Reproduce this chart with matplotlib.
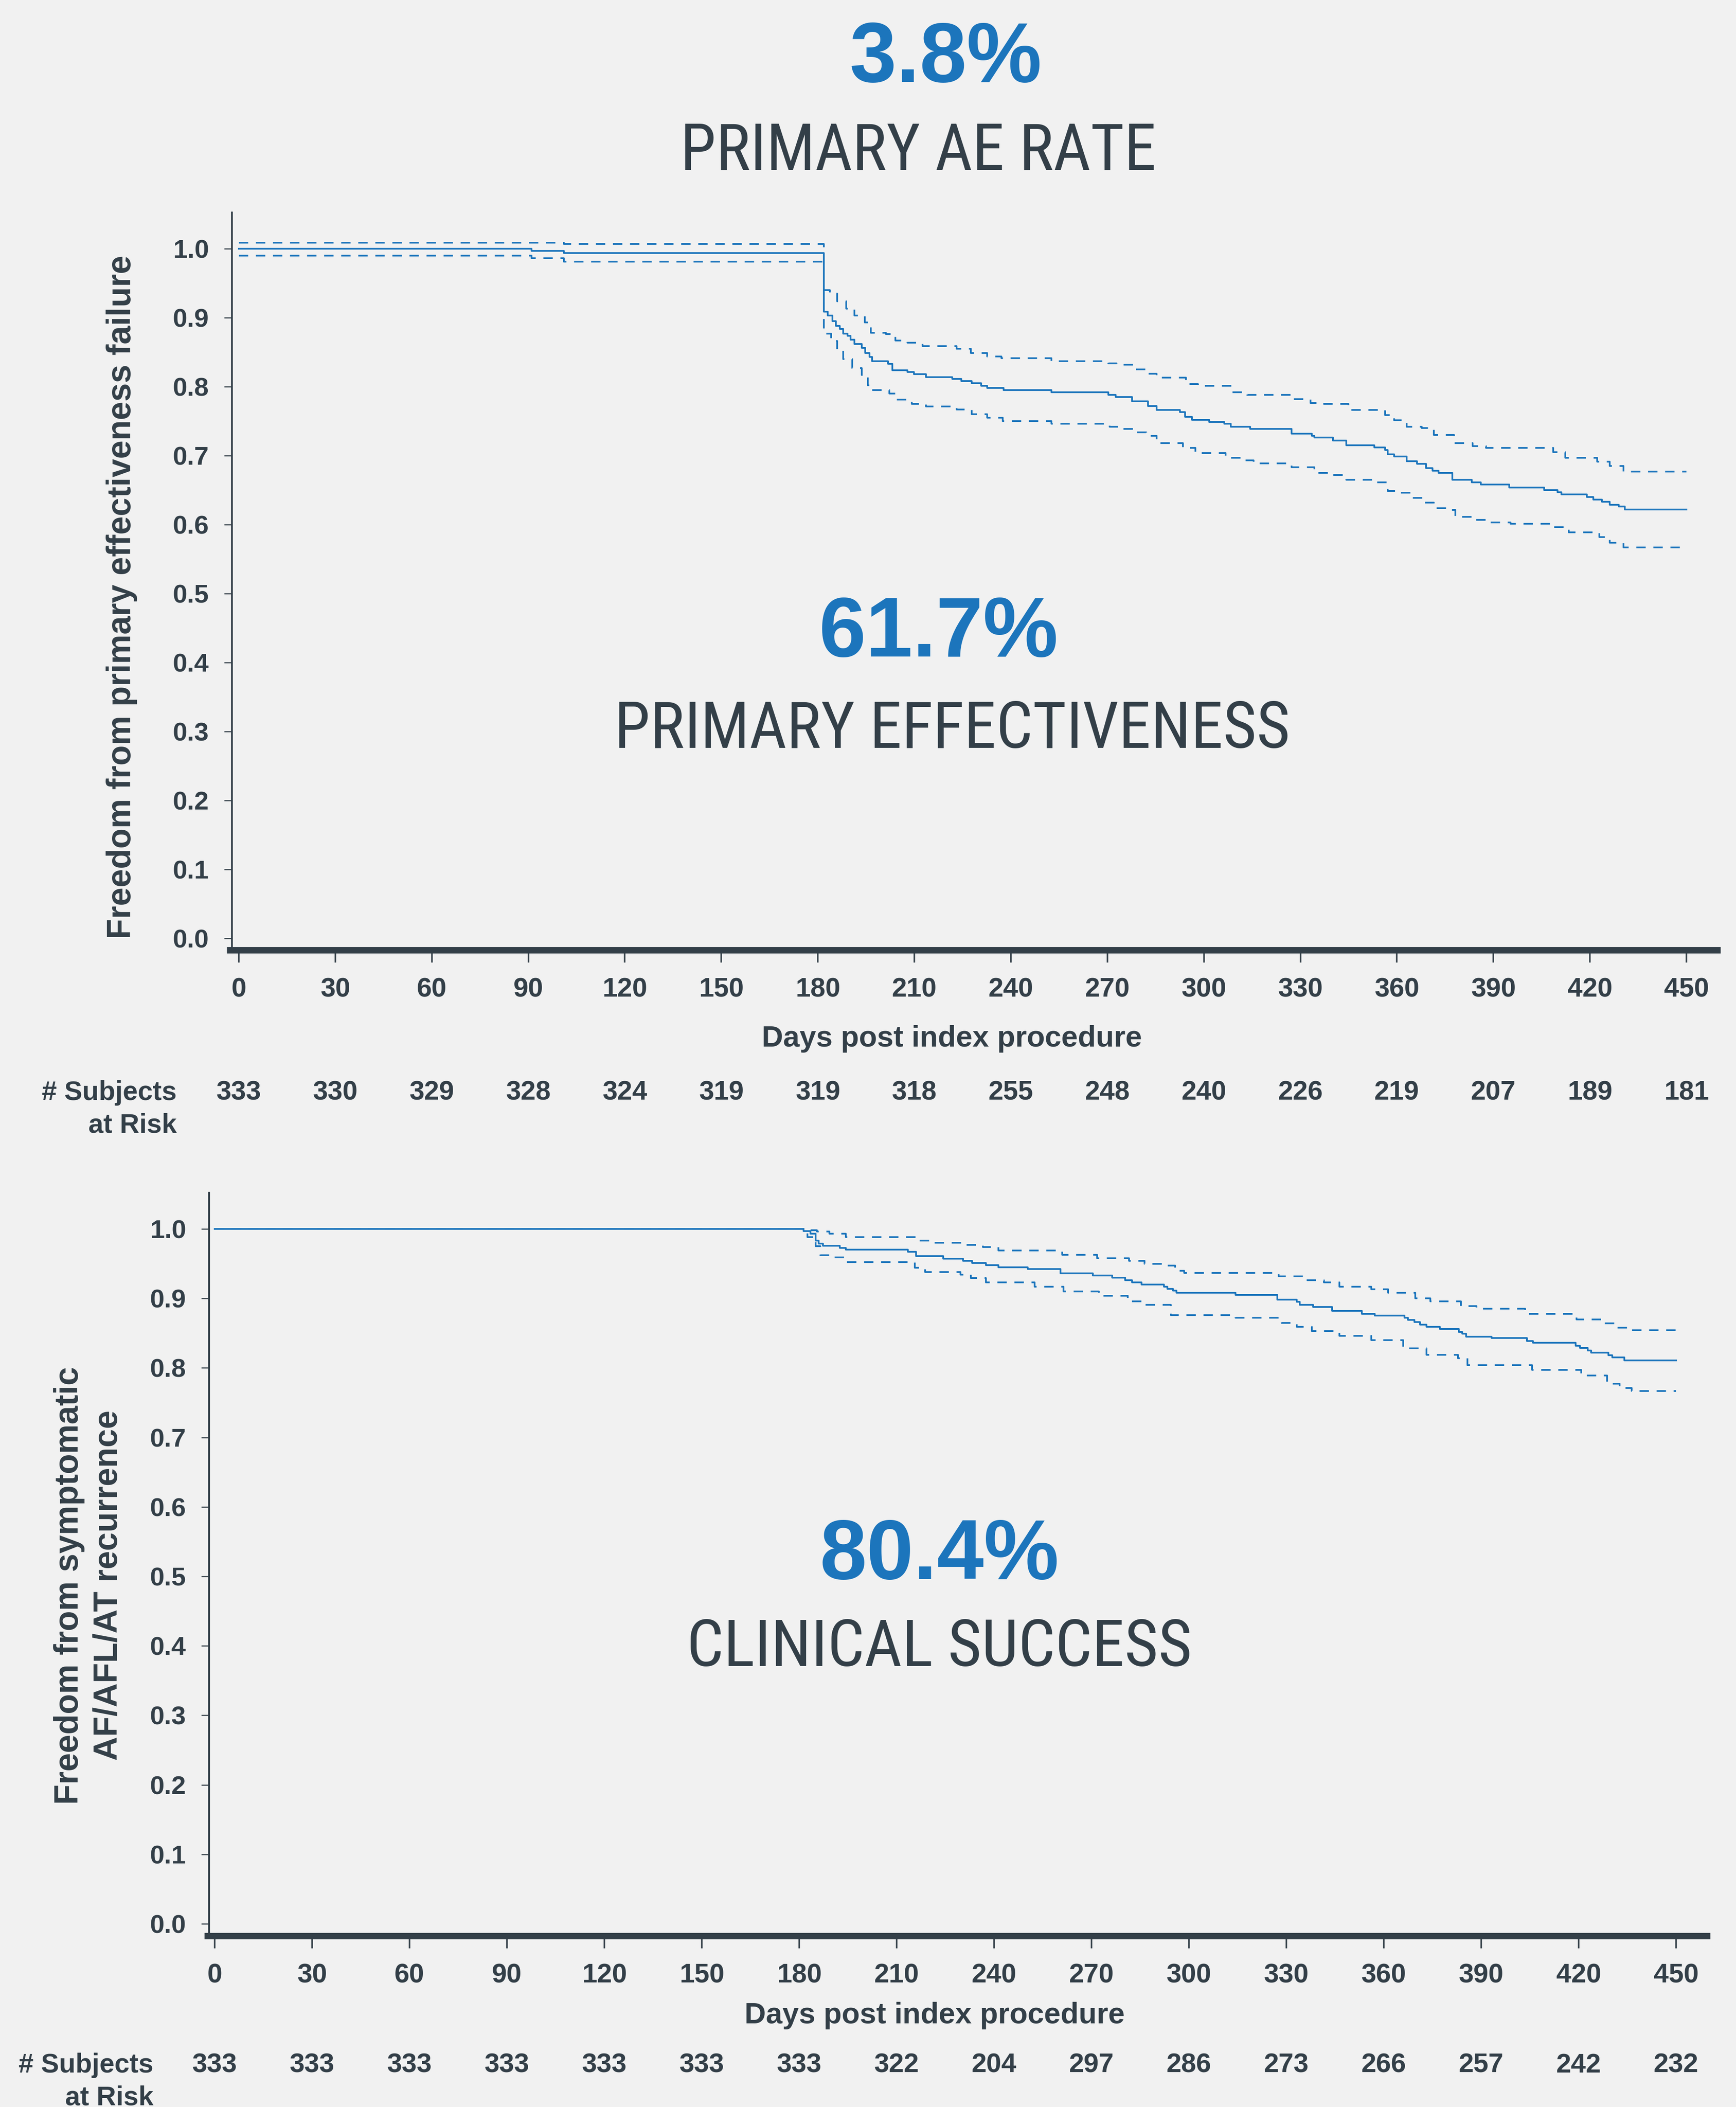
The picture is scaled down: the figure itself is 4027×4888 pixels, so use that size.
import matplotlib
matplotlib.use('Agg')
import matplotlib.pyplot as plt
from matplotlib import font_manager
from matplotlib.font_manager import FontProperties
from matplotlib.transforms import blended_transform_factory

# Kaplan-Meier data
# --- plot 1: freedom from primary effectiveness failure
p1_days = [0, 91, 101, 181.8, 183.0, 184.5, 185.6, 186.8, 187.9, 189.2, 190.2, 191.3, 193.6, 194.7,
           196.1, 196.8, 201.8, 203.1, 207.9, 209.8, 213.6, 221.8, 224.6, 227.8, 230.7, 232.6, 237.7,
           252.6, 270.3, 272.6, 277.7, 282.6, 285.3, 292.5, 294.1, 296.3, 301.7, 306.4, 308.3, 314.4,
           327.2, 333.5, 334.4, 340.1, 344.3, 353.0, 356.3, 357.2, 359.1, 363.0, 366.2, 369.0, 371.1,
           373.0, 377.2, 383.3, 386.1, 394.9, 405.8, 410.0, 411.1, 419.1, 421.0, 423.8, 426.1, 429.0,
           430.9, 450]
p1_surv = [1.0, 0.997, 0.994, 0.909, 0.903, 0.895, 0.888, 0.884, 0.877, 0.874, 0.868, 0.862, 0.856,
           0.849, 0.843, 0.837, 0.833, 0.824, 0.821, 0.818, 0.814, 0.811, 0.808, 0.805, 0.801, 0.798,
           0.795, 0.792, 0.788, 0.785, 0.779, 0.772, 0.766, 0.763, 0.756, 0.752, 0.749, 0.746, 0.742,
           0.739, 0.732, 0.729, 0.726, 0.722, 0.715, 0.712, 0.708, 0.702, 0.699, 0.692, 0.688, 0.682,
           0.678, 0.675, 0.665, 0.661, 0.658, 0.654, 0.650, 0.647, 0.644, 0.640, 0.636, 0.633, 0.629,
           0.626, 0.622, 0.622]
p1_up_days = [0, 101, 181.8, 183.7, 186.0, 188.8, 191.3, 194.6, 196.5, 201.2, 204.1, 207.9, 212.6,
              223.1, 227.5, 232.6, 237.0, 252.6, 270.3, 272.8, 278.3, 282.6, 285.3, 294.4, 298.2,
              308.7, 313.5, 327.7, 333.1, 337.3, 344.9, 356.3, 359.1, 363.0, 367.7, 371.5, 377.8,
              383.5, 387.7, 408.6, 412.4, 422.3, 426.1, 430.5, 450]
p1_up_surv = [1.009, 1.007, 0.940, 0.935, 0.924, 0.913, 0.903, 0.893, 0.878, 0.876, 0.867, 0.864,
              0.859, 0.855, 0.849, 0.844, 0.841, 0.837, 0.834, 0.832, 0.825, 0.819, 0.813, 0.804,
              0.801, 0.792, 0.788, 0.782, 0.776, 0.775, 0.766, 0.759, 0.751, 0.742, 0.740, 0.730,
              0.718, 0.714, 0.711, 0.705, 0.697, 0.691, 0.685, 0.677, 0.677]
p1_lo_days = [0, 91, 101, 181.8, 184.1, 186.0, 187.9, 190.7, 193.6, 195.5, 196.5, 202.2, 204.1,
              209.2, 213.6, 223.1, 227.8, 232.6, 237.4, 252.6, 270.7, 273.5, 278.3, 282.1, 285.3,
              293.5, 297.3, 306.8, 311.6, 315.4, 327.2, 334.4, 340.1, 344.3, 353.4, 357.2, 361.0,
              364.8, 368.6, 371.5, 376.3, 378.2, 383.9, 388.6, 395.3, 408.6, 413.4, 422.9, 426.1,
              430.5, 450]
p1_lo_surv = [0.990, 0.986, 0.981, 0.877, 0.866, 0.853, 0.840, 0.827, 0.817, 0.802, 0.795, 0.790,
              0.781, 0.775, 0.771, 0.767, 0.760, 0.755, 0.750, 0.746, 0.742, 0.739, 0.734, 0.729,
              0.718, 0.711, 0.704, 0.697, 0.693, 0.689, 0.683, 0.675, 0.672, 0.665, 0.661, 0.649,
              0.646, 0.639, 0.632, 0.624, 0.621, 0.611, 0.607, 0.603, 0.601, 0.596, 0.589, 0.582,
              0.574, 0.567, 0.567]

# --- plot 2: freedom from symptomatic AF/AFL/AT recurrence
p2_days = [0, 181.3, 183.5, 185.0, 186.0, 187.3, 192.5, 194.4, 213.5, 216.0, 224.4, 230.4, 233.2,
           237.5, 241.3, 250.3, 260.4, 270.4, 276.4, 280.3, 282.5, 285.4, 292.3, 293.4, 295.1, 296.2,
           314.4, 327.2, 333.2, 334.1, 338.2, 344.1, 353.2, 357.2, 366.4, 367.5, 369.4, 371.2, 373.1,
           377.3, 383.1, 384.2, 385.3, 393.2, 404.1, 405.9, 419.1, 420.4, 422.8, 423.8, 429.2, 430.3,
           434.1, 450]
p2_surv = [1.0, 0.997, 0.993, 0.983, 0.979, 0.976, 0.973, 0.970, 0.967, 0.961, 0.957, 0.954, 0.951,
           0.948, 0.945, 0.942, 0.936, 0.933, 0.930, 0.926, 0.923, 0.920, 0.917, 0.914, 0.911, 0.908,
           0.905, 0.898, 0.895, 0.891, 0.888, 0.882, 0.878, 0.875, 0.872, 0.869, 0.866, 0.862, 0.859,
           0.856, 0.852, 0.849, 0.845, 0.843, 0.839, 0.836, 0.832, 0.829, 0.825, 0.822, 0.818, 0.815,
           0.811, 0.811]
p2_up_days = [0, 182, 185.5, 189.3, 194.4, 216.0, 220.7, 231.0, 236.6, 241.3, 261.0, 271.7, 281.6,
              286.3, 291.9, 295.7, 298.5, 327.6, 336.0, 341.6, 346.3, 356.2, 361.3, 369.7, 374.4,
              383.8, 388.5, 403.5, 419.4, 427.9, 431.6, 436.3, 450]
p2_up_surv = [1.0, 0.998, 0.996, 0.993, 0.988, 0.983, 0.980, 0.977, 0.974, 0.969, 0.963, 0.958,
              0.954, 0.950, 0.947, 0.940, 0.937, 0.932, 0.926, 0.923, 0.917, 0.913, 0.908, 0.900,
              0.896, 0.889, 0.885, 0.878, 0.870, 0.864, 0.858, 0.854, 0.854]
p2_lo_days = [0, 182.5, 185, 186.5, 190.7, 194.4, 215.6, 218.8, 229.7, 232.8, 237.5, 252.5, 261.4,
              272.2, 281.2, 285.4, 294.4, 314.4, 328.5, 333.2, 337.9, 346.3, 356.2, 366.0, 373.1,
              382.9, 385.7, 405.7, 420.8, 428.8, 432.6, 436.3, 450]
p2_lo_surv = [1.0, 0.988, 0.975, 0.962, 0.959, 0.952, 0.944, 0.938, 0.934, 0.929, 0.923, 0.917,
              0.910, 0.904, 0.896, 0.891, 0.876, 0.872, 0.865, 0.859, 0.853, 0.846, 0.840, 0.828,
              0.819, 0.814, 0.804, 0.797, 0.789, 0.777, 0.771, 0.767, 0.767]

# x ticks and number at risk
tick_days = [0, 30, 60, 90, 120, 150, 180, 210, 240, 270, 300, 330, 360, 390, 420, 450]
risk1 = [333, 330, 329, 328, 324, 319, 319, 318, 255, 248, 240, 226, 219, 207, 189, 181]
risk2 = [333, 333, 333, 333, 333, 333, 333, 322, 204, 297, 286, 273, 266, 257, 242, 232]
y_ticks = [0.0, 0.1, 0.2, 0.3, 0.4, 0.5, 0.6, 0.7, 0.8, 0.9, 1.0]

BLUE = '#1c75bc'
INK = '#333f48'
BG = '#f1f1f1'

W, H, DPI = 4027, 4888, 300
plt.rcParams['font.family'] = ['Liberation Sans', 'DejaVu Sans']


def find_condensed():
    # look for a condensed / narrow regular sans face on this system
    cands = []
    for f in font_manager.fontManager.ttflist:
        nm = f.name.lower()
        st = str(f.stretch).lower()
        narrowish = ('condensed' in st or 'narrow' in nm or 'condensed' in nm
                     or (isinstance(f.stretch, (int, float)) and f.stretch < 500))
        if not narrowish or 'mono' in nm or 'serif' in nm and 'sans' not in nm:
            continue
        if f.style != 'normal':
            continue
        w = f.weight if isinstance(f.weight, (int, float)) else 400
        if w < 350 or w > 450:
            continue
        cands.append(f)
    if not cands:
        return None
    order = ['liberation sans narrow', 'roboto condensed', 'open sans', 'noto sans', 'dejavu sans']
    def rank(f):
        nm = f.name.lower()
        for i, o in enumerate(order):
            if nm.startswith(o):
                return i
        return len(order)
    cands.sort(key=rank)
    return FontProperties(fname=cands[0].fname)


cond = find_condensed()

fig = plt.figure(figsize=(W / DPI, H / DPI), dpi=DPI, facecolor=BG)


def ftext(x, y, s, **kw):
    # place text with full-size pixel coordinates
    return fig.text(x / W, 1 - y / H, s, color=kw.pop('color', INK), **kw)


def headline(x, y, s, target_w):
    if cond is not None:
        t = ftext(x, y, s, ha='center', va='baseline', fontproperties=cond.copy())
    else:
        t = ftext(x, y, s, ha='center', va='baseline', family=['Liberation Sans', 'DejaVu Sans'])
    t.set_fontsize(36)
    r = fig.canvas.get_renderer()
    w = t.get_window_extent(renderer=r).width
    t.set_fontsize(min(36.5, 36 * target_w / w))
    return t


def make_axes(left, top, right, bottom):
    return fig.add_axes([left / W, 1 - bottom / H, (right - left) / W, (bottom - top) / H])


def style_axes(ax, xlim, ylim, spine_x):
    ax.set_facecolor('none')
    ax.set_xlim(xlim)
    ax.set_ylim(ylim)
    ax.spines['top'].set_visible(False)
    ax.spines['right'].set_visible(False)
    ax.spines['left'].set_position(('data', spine_x))
    ax.spines['left'].set_linewidth(1.0)
    ax.spines['left'].set_color(INK)
    ax.spines['bottom'].set_linewidth(3.6)
    ax.spines['bottom'].set_color(INK)
    ax.spines['bottom'].set_capstyle('butt')
    ax.set_xticks(tick_days)
    ax.set_xticklabels([str(d) for d in tick_days])
    ax.set_yticks(y_ticks)
    ax.set_yticklabels([f'{v:.1f}' for v in y_ticks])
    ax.tick_params(axis='x', length=7, width=0.85, pad=8, colors=INK, labelsize=15)
    ax.tick_params(axis='y', length=4.3, width=0.6, pad=8.5, colors=INK, labelsize=14.5)
    for lbl in ax.get_xticklabels() + ax.get_yticklabels():
        lbl.set_fontweight('bold')


def draw_km(ax, t, s, tu, su, tl, sl):
    ax.step(t, s, where='post', color=BLUE, lw=0.95)
    ax.step(tu, su, where='post', color=BLUE, lw=0.95, dashes=(5.5, 4.5))
    ax.step(tl, sl, where='post', color=BLUE, lw=0.95, dashes=(5.5, 4.5))


def risk_row(ax, counts, y_base, lab_right):
    trans = blended_transform_factory(ax.transData, fig.transFigure)
    for d, n in zip(tick_days, counts):
        ax.text(d, 1 - y_base / H, str(n), transform=trans, ha='center', va='baseline',
                fontsize=15, fontweight='bold', color=INK)
    ftext(lab_right, y_base, '# Subjects', ha='right', va='baseline', fontsize=15, fontweight='bold')
    ftext(lab_right, y_base + 75, 'at Risk', ha='right', va='baseline', fontsize=15, fontweight='bold')


# ---------------- plot 1
ax1 = make_axes(526, 493, 3991, 2204)
style_axes(ax1, (-3.752, 460.59), (-0.0169, 1.0525), -2.144)
draw_km(ax1, p1_days, p1_surv, p1_up_days, p1_up_surv, p1_lo_days, p1_lo_surv)
ftext(2208, 2428, 'Days post index procedure', ha='center', va='baseline', fontsize=16.5, fontweight='bold')
ftext(283, 1385, 'Freedom from primary effectiveness failure', rotation=90, ha='center', va='center',
      fontsize=18.5, fontweight='bold')
risk_row(ax1, risk1, 2552, 410)

# ---------------- plot 2
ax2 = make_axes(474, 2767, 3967, 4491)
style_axes(ax2, (-3.186, 460.49), (-0.0174, 1.0521), -1.726)
draw_km(ax2, p2_days, p2_surv, p2_up_days, p2_up_surv, p2_lo_days, p2_lo_surv)
ftext(2168, 4694, 'Days post index procedure', ha='center', va='baseline', fontsize=16.5, fontweight='bold')
ftext(206, 3678, 'Freedom from symptomatic\nAF/AFL/AT recurrence', rotation=90, ha='center',
      va='center', multialignment='center', linespacing=1.3, fontsize=18.5, fontweight='bold')
risk_row(ax2, risk2, 4808, 356)

# ---------------- headline numbers
ftext(2194, 190, '3.8%', ha='center', va='baseline', fontsize=47, fontweight='bold', color=BLUE)
headline(2130, 394, 'PRIMARY AE RATE', 1105)
ftext(2178, 1523, '61.7%', ha='center', va='baseline', fontsize=47, fontweight='bold', color=BLUE)
headline(2209, 1735, 'PRIMARY EFFECTIVENESS', 1569)
ftext(2179, 3663, '80.4%', ha='center', va='baseline', fontsize=47, fontweight='bold', color=BLUE)
headline(2179, 3865, 'CLINICAL SUCCESS', 1172)

fig.savefig('out.png', dpi=DPI, facecolor=BG)
